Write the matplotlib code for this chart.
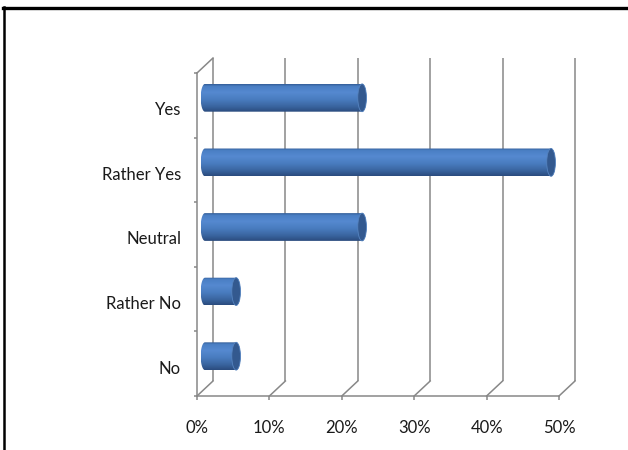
import numpy as np
import matplotlib
matplotlib.use("Agg")
import matplotlib.pyplot as plt
from matplotlib.colors import LinearSegmentedColormap
from matplotlib.patches import Polygon, Ellipse
from matplotlib.lines import Line2D
from matplotlib.transforms import ScaledTranslation

# Survey answers (share of respondents, %)
categories = ["Yes", "Rather Yes", "Neutral", "Rather No", "No"]
shares = [21.7, 47.8, 21.7, 4.3, 4.3]
x_ticks = [0, 10, 20, 30, 40, 50]
x_tick_labels = ["0%", "10%", "20%", "30%", "40%", "50%"]

plt.rcParams["font.family"] = ["Lato", "DejaVu Sans"]

W, H = 628, 450
fig = plt.figure(figsize=(W / 100, H / 100), dpi=100)
fig.patch.set_facecolor("white")

# front plane of the 3-D box, in pixels
left, top, right, bottom = 197, 73, 559, 396
ax = fig.add_axes([left / W, 1 - bottom / H, (right - left) / W, (bottom - top) / H])
xmax = x_ticks[-1]
ncat = len(categories)
ax.set_xlim(0, xmax)
ax.set_ylim(-0.5, ncat - 0.5)
ax.set_facecolor("none")

# depth of the box expressed in data units
DX = 16 / (right - left) * xmax
DY = 15 / (bottom - top) * ncat

grid_c = "#888888"
lw = 1.1

# back wall verticals and floor diagonals
for t in x_ticks:
    ax.plot([t + DX, t + DX], [-0.5 + DY, ncat - 0.5 + DY], color=grid_c, lw=lw,
            clip_on=False, solid_capstyle="butt", zorder=1)
    ax.plot([t, t + DX], [-0.5, -0.5 + DY], color=grid_c, lw=lw, clip_on=False, zorder=1)
ax.plot([0, DX], [ncat - 0.5, ncat - 0.5 + DY], color=grid_c, lw=lw, clip_on=False, zorder=1)

# spines / ticks of the front plane
for s in ["top", "right"]:
    ax.spines[s].set_visible(False)
for s in ["left", "bottom"]:
    ax.spines[s].set_color(grid_c)
    ax.spines[s].set_linewidth(lw)
    ax.spines[s].set_zorder(1)

ypos = np.arange(ncat)[::-1]
ax.set_yticks(ypos)
ax.set_yticklabels(categories)
ax.set_yticks(np.arange(-0.5, ncat, 1.0), minor=True)
ax.tick_params(axis="y", which="major", length=0, pad=11.5, labelsize=12, labelcolor="#1a1a1a")
ax.tick_params(axis="y", which="minor", length=2.4, width=lw, color=grid_c, direction="out")
ax.set_xticks(x_ticks)
ax.set_xticklabels(x_tick_labels)
ax.tick_params(axis="x", which="major", length=3, width=lw, color=grid_c, direction="out",
               pad=14, labelsize=12, labelcolor="#1a1a1a")

# nudge category labels slightly downward
shift = ScaledTranslation(0, -2.5 / 72, fig.dpi_scale_trans)
for lbl in ax.get_yticklabels():
    lbl.set_transform(lbl.get_transform() + shift)

# cylinder shading
cmap = LinearSegmentedColormap.from_list(
    "cyl",
    [(0.0, "#325c95"), (0.08, "#4a7fc4"), (0.3, "#5589d0"), (0.55, "#497cbf"),
     (0.8, "#3a65a0"), (1.0, "#2a4b7e")],
)
grad = np.linspace(0, 1, 256).reshape(-1, 1)

bar_h = 0.43
rx = 0.6
th = np.linspace(-np.pi / 2, np.pi / 2, 60)
for y, v in zip(ypos, shares):
    yc = y + DY / 2
    x0 = DX / 2
    x1 = v + DX / 2
    right_arc = np.column_stack([x1 + rx * np.cos(th), yc + bar_h / 2 * np.sin(th)])
    left_arc = np.column_stack([x0 - rx * np.cos(th[::-1]), yc + bar_h / 2 * np.sin(th[::-1])])
    outline = Polygon(np.vstack([right_arc, left_arc]), closed=True, transform=ax.transData,
                      facecolor="none", edgecolor="none")
    ax.add_patch(outline)
    im = ax.imshow(grad, cmap=cmap, aspect="auto", interpolation="bilinear",
                   extent=[x0 - rx, x1 + rx, yc - bar_h / 2, yc + bar_h / 2], zorder=3)
    im.set_clip_path(outline)
    cap = Ellipse((x1, yc), 2 * rx, bar_h, facecolor="#33598f", edgecolor="#5583bf",
                  lw=0.6, zorder=4)
    ax.add_patch(cap)

ax.set_xlim(0, xmax)
ax.set_ylim(-0.5, ncat - 0.5)

# outer frame (top and left edges)
fig.add_artist(Line2D([3 / W, 1], [1 - 7.5 / H, 1 - 7.5 / H], color="black", lw=2.4,
                      transform=fig.transFigure))
fig.add_artist(Line2D([4 / W, 4 / W], [0, 1 - 6.5 / H], color="black", lw=1.8,
                      transform=fig.transFigure))

fig.savefig("out.png", dpi=100, facecolor="white")
